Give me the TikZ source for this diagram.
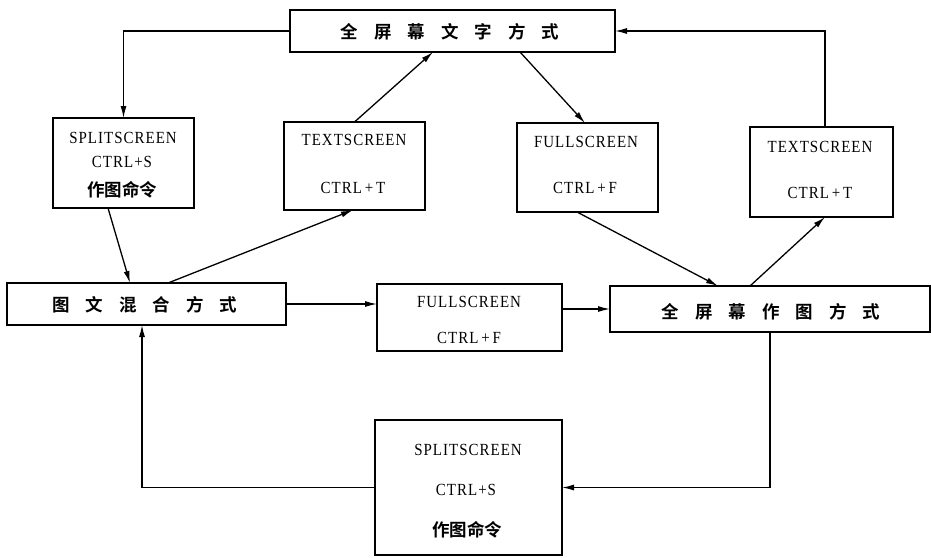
\documentclass[tikz,border=0pt]{standalone}
\usepackage{fontspec}
\setmainfont{Liberation Serif}[FakeStretch=0.88,LetterSpace=6]
\newfontfamily\cjk{Noto Sans CJK SC Bold}
\usetikzlibrary{arrows.meta}
\newcommand{\gapx}{\hspace{16pt}}
\begin{document}
\begin{tikzpicture}[x=1pt,y=-1pt,
  box/.style={draw,line width=1.5pt,inner sep=0pt,outer sep=0pt},
  lat/.style={inner sep=0pt,font=\fontsize{17}{19}\selectfont},
  zh/.style={inner sep=0pt,font=\cjk\fontsize{17.5}{19}\selectfont},
  arr/.style={line width=1.3pt,-{Latex[length=12pt,width=6pt]}}]
\useasboundingbox (0,0) rectangle (931,557);
% boxes
\node[box,minimum width=325pt,minimum height=42pt] (top) at (452.5,31) {};
\node[box,minimum width=141pt,minimum height=90pt] (b1) at (123.5,163) {};
\node[box,minimum width=141pt,minimum height=88pt] (b2) at (354.5,166) {};
\node[box,minimum width=141pt,minimum height=89pt] (b3) at (587.5,167.5) {};
\node[box,minimum width=143pt,minimum height=90pt] (b4) at (821.5,172) {};
\node[box,minimum width=279pt,minimum height=42pt] (mix) at (146.5,304) {};
\node[box,minimum width=185pt,minimum height=67pt] (fs) at (469.5,317.5) {};
\node[box,minimum width=320pt,minimum height=46pt] (full) at (770,309) {};
\node[box,minimum width=187pt,minimum height=135pt] (bot) at (468.5,487.5) {};
% texts
\node[zh] (ttop) at (450,32) {全\gapx 屏\gapx 幕\gapx 文\gapx 字\gapx 方\gapx 式};
\node[zh] (tmix) at (145,305) {图\gapx 文\gapx 混\gapx 合\gapx 方\gapx 式};
\node[zh] (tfull) at (771,312) {全\gapx 屏\gapx 幕\gapx 作\gapx 图\gapx 方\gapx 式};
\node[lat] (t1a) at (123,138) {SPLITSCREEN};
\node[lat] (t1b) at (122,162) {CTRL+S};
\node[zh] (t1c) at (122,190) {作图命令};
\node[lat] (t2a) at (354,140) {TEXTSCREEN};
\node[lat] (t2b) at (353,188) {CTRL\,+\,T};
\node[lat] (t3a) at (586,142) {FULLSCREEN};
\node[lat] (t3b) at (585,188) {CTRL\,+\,F};
\node[lat] (t4a) at (820,147) {TEXTSCREEN};
\node[lat] (t4b) at (820,193) {CTRL\,+\,T};
\node[lat] (tfa) at (469,302) {FULLSCREEN};
\node[lat] (tfb) at (469,338) {CTRL\,+\,F};
\node[lat] (tba) at (468,450) {SPLITSCREEN};
\node[lat] (tbb) at (466,490) {CTRL+S};
\node[zh] (tbc) at (467,530) {作图命令};
% connectors
\draw[arr] (top.west) -| (b1.north);
\draw[arr] ([xshift=-15.5pt]b1.south) -- ([xshift=-16.5pt]mix.north);
\draw[arr] ([xshift=21.5pt]mix.north) -- ([xshift=-1.5pt]b2.south);
\draw[arr] (b2.north) -- ([xshift=-19.5pt]top.south);
\draw[arr] ([xshift=67.5pt]top.south) -- ([xshift=-2.5pt]b3.north);
\draw[arr] ([xshift=-10.5pt]b3.south) -- ([xshift=-52pt]full.north);
\draw[arr] ([xshift=-20pt]full.north) -- ([xshift=3.5pt]b4.south);
\draw[arr] ([xshift=3.5pt]b4.north) |- (top.east);
\draw[arr] (mix.east) -- (mix.east -| fs.west);
\draw[arr] (fs.east |- full.west) -- (full.west);
\draw[arr] (full.south) |- (bot.east);
\draw[arr] (bot.west) -| ([xshift=-4.5pt]mix.south);
\end{tikzpicture}
\end{document}
